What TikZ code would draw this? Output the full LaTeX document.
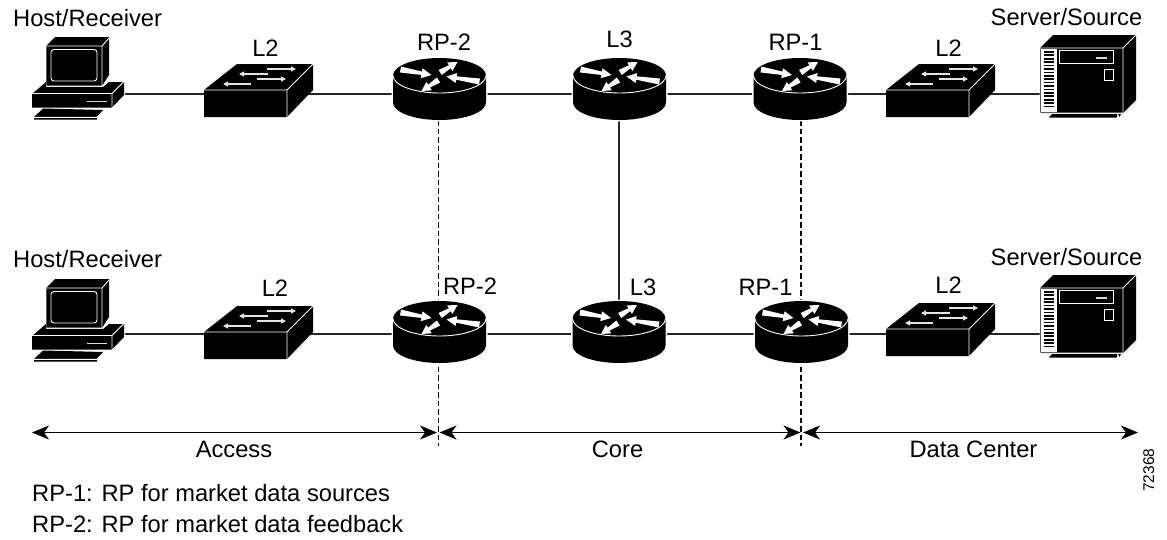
\documentclass[tikz,border=0pt]{standalone}
\usepackage{fontspec}
\setmainfont{Liberation Sans}
\usetikzlibrary{calc,arrows.meta}
\newcommand{\rarr}[3]{%
  \fill[white] ($(#1)!3pt!90:(#2)$) -- ($($(#2)!#3pt!(#1)$)!1.7pt!90:(#2)$) -- ($($(#2)!#3pt!(#1)$)!5pt!90:(#2)$) -- (#2)
   -- ($($(#2)!#3pt!(#1)$)!5pt!-90:(#2)$) -- ($($(#2)!#3pt!(#1)$)!1.7pt!-90:(#2)$) -- ($(#1)!3pt!-90:(#2)$) -- cycle;}
\tikzset{
  x=1pt,y=-1pt,
  lbl/.style={inner sep=0pt,font=\fontsize{23.7}{28}\selectfont,text=black},
  link/.style={line width=1.1pt,black!85},
  dashlink/.style={line width=1.1pt,black,dash pattern=on 5.5pt off 3pt},
  span/.style={line width=1.2pt,black,{Stealth[length=17pt,width=14pt,inset=5pt]}-{Stealth[length=17pt,width=14pt,inset=5pt]}},
  wl/.style={white,line width=0.9pt},
  swarr/.style={white!90!black,line width=1.4pt,-{Triangle[length=5pt,width=5pt]}},
  router/.pic={
    \fill[white] (-48,0) -- (-48,27) .. controls (-48,37) and (-26,46) .. (0,46) .. controls (26,46) and (48,37) .. (48,27) -- (48,0) .. controls (48,-10) and (26,-19) .. (0,-19) .. controls (-26,-19) and (-48,-10) .. (-48,0) -- cycle;
    \fill[black] (-46.5,0) -- (-46.5,27) .. controls (-46.5,36.66) and (-25.7,44.5) .. (0,44.5) .. controls (25.7,44.5) and (46.5,36.66) .. (46.5,27) -- (46.5,0) .. controls (46.5,-9.66) and (25.7,-17.5) .. (0,-17.5) .. controls (-25.7,-17.5) and (-46.5,-9.66) .. (-46.5,0) -- cycle;
    \draw[wl] (-46.5,0) .. controls (-46.5,9.66) and (-25.7,17.5) .. (0,17.5) .. controls (25.7,17.5) and (46.5,9.66) .. (46.5,0);
    \rarr{-39,-6}{-8,-0.5}{10}
    \rarr{0.7,-3}{18,-13.5}{9}
    \rarr{-1,4.5}{-18,15.5}{9}
    \rarr{40,6}{7,1}{10}
  },
  switchbox/.pic={
    \fill[black] (0,0) -- (33,-26) -- (109,-26) -- (109,0) -- (83,27) -- (0,27) -- cycle;
    \draw[wl] (0,0) -- (83,0) -- (109,-26) (83,0) -- (83,27);
    \draw[swarr] (63,-21) -- (92,-21);
    \draw[swarr] (64,-16) -- (35,-16);
    \draw[swarr] (53,-11) -- (82,-11);
    \draw[swarr] (47,-6) -- (19,-6);
  },
  computer/.pic={
    \fill[white] (31,94) -- (45,80) -- (125,80) -- (125,96) -- (113,108) -- (31,108) -- cycle;
    \fill[black] (46,46) -- (55,37) -- (109,37) -- (109,75) -- (102,86) -- (46,86) -- cycle;
    \draw[wl] (46,46) rectangle (102,86) (102,46) -- (109,38);
    \draw[wl,rounded corners=3pt] (51,49.5) rectangle (97,81);
    \fill[black] (32,94) -- (46,82) -- (46,87) -- (103,87) -- (109,82) -- (124,82) -- (124,95) -- (112,107.5) -- (32,107.5) -- cycle;
    \draw[wl] (32,93.5) -- (112,93.5) -- (124,81.5) (112,93.5) -- (112,107);
    \draw[white!85!black,line width=1.3pt] (87,101.5) -- (107,101.5);
    \fill[black] (34,119.5) -- (34,117) -- (43,108.5) -- (104,110) -- (97,117) -- (97,119.5) -- cycle;
    \draw[wl] (34,117.3) -- (97,117.3) -- (104,110);
  },
  server/.pic={
    \fill[black] (1040,48) -- (1053,35) -- (1136,35) -- (1136,100) -- (1123,113) -- (1040,113) -- cycle;
    \draw[wl] (1040,48) rectangle (1123,113) (1123,48) -- (1136,35);
    \fill[white] (1041,49) rectangle (1056.5,112);
    \foreach \i in {0,...,16} {\fill[black] (1043.5,51+3.42*\i) rectangle (1054,52.7+3.42*\i);}
    \draw[wl] (1059,50.5) rectangle (1113,63);
    \draw[white!85!black,line width=1.1pt] (1096,58) -- (1107,58);
    \draw[wl] (1104.5,69) rectangle (1113,80);
    \fill[black] (1049,117.5) -- (1052,114) -- (1117,114) -- (1117,117.5) -- cycle;
    \fill[black] (1118,114) -- (1121,114) -- (1119.5,117) -- cycle;
  },
}
\begin{document}
\begin{tikzpicture}
\useasboundingbox (0,0) rectangle (1167,539);
% connection points
\coordinate (pcA) at (90,94);
\coordinate (swA) at (245,94);
\coordinate (rpTwoA) at (439,94);
\coordinate (lThreeA) at (619,94);
\coordinate (rpOneA) at (801,94);
\coordinate (swB) at (927,94);
\coordinate (srvA) at (1080,94);
\coordinate (pcB) at (90,334);
\coordinate (swC) at (245,334);
\coordinate (rpTwoB) at (439,334);
\coordinate (lThreeB) at (619,334);
\coordinate (rpOneB) at (801,334);
\coordinate (swD) at (927,334);
\coordinate (srvB) at (1080,334);
\coordinate (dashTopL) at (438.5,120);
\coordinate (dashTopR) at (801,120);
\coordinate (dashEndL) at (438.5,446);
\coordinate (dashEndR) at (801,446);
\coordinate (spA) at (32,432.5);
\coordinate (spB) at (437,432.5);
\coordinate (spC) at (439.5,432.5);
\coordinate (spD) at (800.5,432.5);
\coordinate (spE) at (803,432.5);
\coordinate (spF) at (1138,432.5);
% connectors
\draw[link] (pcA) -- (swA) -- (rpTwoA) -- (lThreeA) -- (rpOneA) -- (swB) -- (srvA);
\draw[link] (pcB) -- (swC) -- (rpTwoB) -- (lThreeB) -- (rpOneB) -- (swD) -- (srvB);
\draw[link] (lThreeA) -- (lThreeB);
\draw[dashlink] (dashTopL) -- (dashEndL);
\draw[dashlink] (dashTopR) -- (dashEndR);
\draw[span] (spA) -- (spB);
\draw[span] (spC) -- (spD);
\draw[span] (spE) -- (spF);
% devices
\pic at (0,0) {computer};
\pic at (0,242) {computer};
\pic at (204,90) {switchbox};
\pic at (204,332) {switchbox};
\pic at (886,90) {switchbox};
\pic at (886,329) {switchbox};
\pic at (439.5,75.5) {router};
\pic at (619.5,75.5) {router};
\pic at (800,75.5) {router};
\pic at (439.5,318.5) {router};
\pic at (619,318.5) {router};
\pic at (801.5,318.5) {router};
\pic at (0,0) {server};
\pic at (0,240) {server};
% labels
\node[lbl,anchor=base west] (hostA) at (13,26) {Host/Receiver};
\node[lbl,anchor=base west] (hostB) at (13,267.7) {Host/Receiver};
\node[lbl,anchor=base] (ltwoA) at (265.5,56) {L2};
\node[lbl,anchor=base] (ltwoB) at (275,296) {L2};
\node[lbl,anchor=base] (rptwoA) at (444,50) {RP-2};
\node[lbl,anchor=base] (rptwoB) at (470,294) {RP-2};
\node[lbl,anchor=base] (lthreeA) at (619.5,47.5) {L3};
\node[lbl,anchor=base] (lthreeB) at (643,295.7) {L3};
\node[lbl,anchor=base] (rponeA) at (795.5,50) {RP-1};
\node[lbl,anchor=base] (rponeB) at (765.5,295) {RP-1};
\node[lbl,anchor=base] (ltwoC) at (948.5,56) {L2};
\node[lbl,anchor=base] (ltwoD) at (948.5,293) {L2};
\node[lbl,anchor=base west] (srvlA) at (990.5,25) {Server/Source};
\node[lbl,anchor=base west] (srvlB) at (990.5,265) {Server/Source};
\node[lbl,anchor=base] (access) at (234,457) {Access};
\node[lbl,anchor=base] (core) at (617.5,457) {Core};
\node[lbl,anchor=base] (dc) at (973.5,457) {Data Center};
\node[lbl,anchor=base west] (legA) at (32,501.7) {RP-1: RP for market data sources};
\node[lbl,anchor=base west] (legB) at (32,532) {RP-2: RP for market data feedback};
\node[lbl,font=\fontsize{15.5}{18}\selectfont,anchor=base west,rotate=90] (fig) at (1154,492) {72368};
\end{tikzpicture}
\end{document}
